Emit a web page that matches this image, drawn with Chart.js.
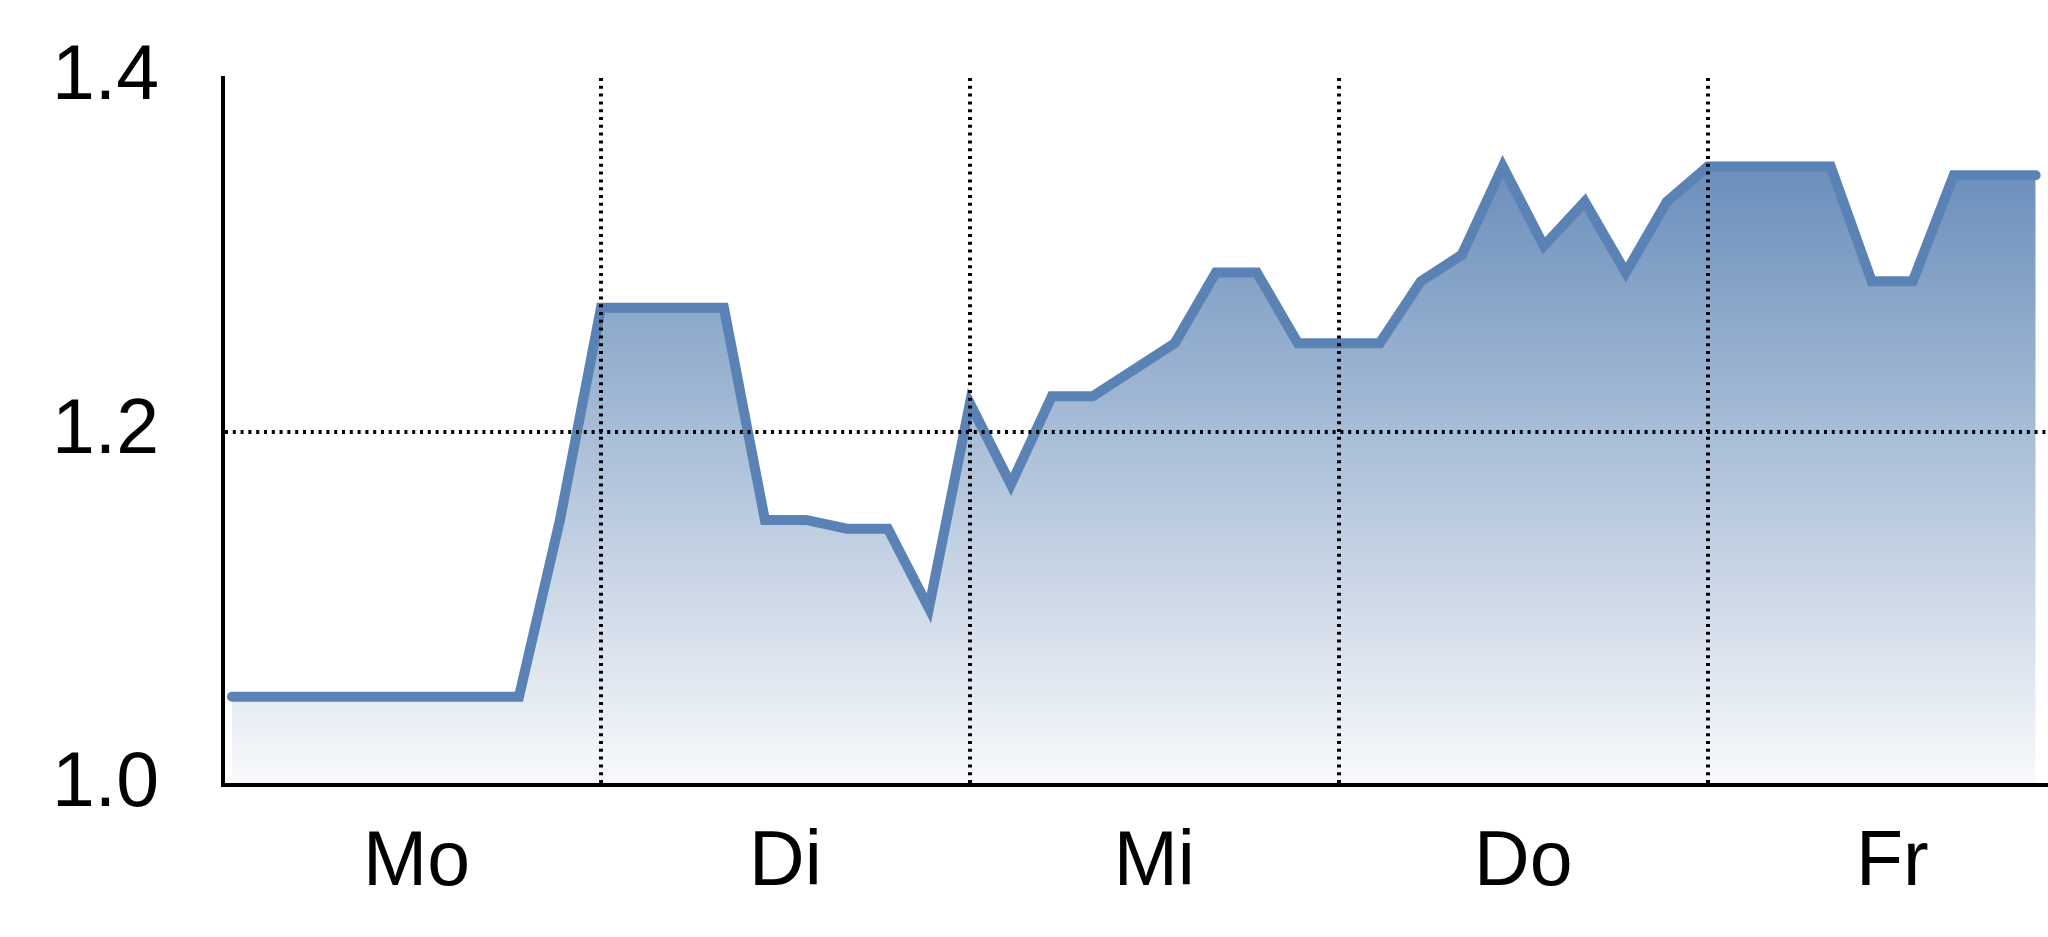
<!DOCTYPE html>
<html>
<head>
<meta charset="utf-8">
<script src="https://cdn.jsdelivr.net/npm/chart.js@4/dist/chart.umd.min.js"></script>
<style>
  html, body { margin: 0; padding: 0; background: #fff; }
  #wrap { width: 2048px; height: 937px; }
</style>
</head>
<body>
<div id="wrap"><canvas id="chart" width="2048" height="937"></canvas></div>
<script>
// Wochentage (je 9 Messpunkte pro Tag)
const days = ['Mo', 'Di', 'Mi', 'Do', 'Fr'];
const dayCenters = [4.5, 13.5, 22.5, 31.5, 40.5];
const dayBounds = [9, 18, 27, 36];

// Werte
const values = [
  1.05, 1.05, 1.05, 1.05, 1.05, 1.05, 1.05, 1.05, 1.15,   // Mo
  1.27, 1.27, 1.27, 1.27, 1.15, 1.15, 1.145, 1.145, 1.10, // Di
  1.216, 1.17, 1.22, 1.22, 1.235, 1.25, 1.29, 1.29, 1.25, // Mi
  1.25, 1.25, 1.285, 1.30, 1.35, 1.305, 1.33, 1.29, 1.33, // Do
  1.35, 1.35, 1.35, 1.35, 1.285, 1.285, 1.345, 1.345, 1.345 // Fr
];

const yTicks = [1.0, 1.2, 1.4];

const lineColor = '#5a82b5';
const font = { family: '"Liberation Sans", Arial, sans-serif', size: 77 };

function fillGradient(context) {
  const area = context.chart.chartArea;
  if (!area) return 'rgba(90,130,181,0.5)';
  const g = context.chart.ctx.createLinearGradient(0, area.top, 0, area.bottom);
  g.addColorStop(0, 'rgb(86,127,178)');
  g.addColorStop(1, 'rgb(249,250,252)');
  return g;
}

new Chart(document.getElementById('chart'), {
  type: 'line',
  data: {
    datasets: [{
      data: values.map((v, i) => ({ x: i, y: v })),
      borderColor: lineColor,
      borderWidth: 10,
      borderCapStyle: 'round',
      borderJoinStyle: 'miter',
      backgroundColor: fillGradient,
      fill: 'start',
      pointRadius: 0,
      tension: 0,
      xAxisID: 'x'
    }]
  },
  options: {
    responsive: false,
    devicePixelRatio: 1,
    animation: false,
    layout: { padding: { top: 78, right: 0, left: 0, bottom: 0 } },
    plugins: { legend: { display: false }, tooltip: { enabled: false } },
    scales: {
      x: {
        type: 'linear',
        min: -0.22,
        max: 44.3,
        afterBuildTicks: (scale) => { scale.ticks = dayCenters.map(v => ({ value: v })); },
        afterFit: (scale) => { scale.height = 152; scale.paddingLeft = 0; scale.paddingRight = 0; },
        ticks: {
          font: font,
          color: '#000',
          padding: 33,
          maxRotation: 0,
          autoSkip: false,
          callback: (v, i) => days[i]
        },
        grid: { display: false, drawTicks: false },
        border: { display: true, color: '#000', width: 4, z: 2 }
      },
      days: {
        type: 'linear',
        position: 'bottom',
        min: -0.22,
        max: 44.3,
        afterBuildTicks: (scale) => { scale.ticks = dayBounds.map(v => ({ value: v })); },
        afterFit: (scale) => { scale.height = 0; },
        ticks: { display: false },
        grid: { color: '#000', lineWidth: 4, drawTicks: false, z: 1 },
        border: { display: false, dash: [3, 4.8] }
      },
      y: {
        min: 1.0,
        max: 1.4,
        afterBuildTicks: (scale) => { scale.ticks = yTicks.map(v => ({ value: v })); },
        afterFit: (scale) => { scale.width = 223; scale.paddingTop = 0; scale.paddingBottom = 0; },
        ticks: {
          font: font,
          color: '#000',
          padding: 64,
          callback: (v) => v.toFixed(1)
        },
        grid: {
          z: 1,
          drawTicks: false,
          lineWidth: 4,
          color: (ctx) => (ctx.tick && Math.abs(ctx.tick.value - 1.2) < 1e-6) ? '#000' : 'rgba(0,0,0,0)'
        },
        border: { display: true, color: '#000', width: 4, dash: [3, 4.8], z: 2 }
      }
    }
  }
});
</script>
</body>
</html>
